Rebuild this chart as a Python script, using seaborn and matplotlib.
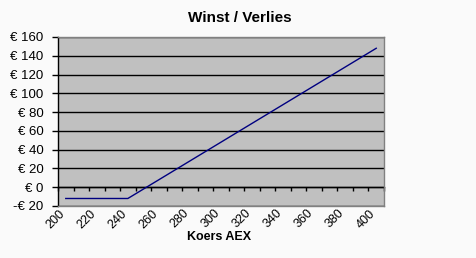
import matplotlib
matplotlib.use("Agg")
import matplotlib.pyplot as plt
import matplotlib.transforms as mtransforms
import seaborn as sns
import numpy as np
import pandas as pd
from matplotlib.ticker import FuncFormatter, FixedLocator

# Data
koers = [200, 210, 220, 230, 240, 250, 260, 270, 280, 290, 300,
         310, 320, 330, 340, 350, 360, 370, 380, 390, 400]
winst = [-12, -12, -12, -12, -12, -2, 8, 18, 28, 38, 48,
         58, 68, 78, 88, 98, 108, 118, 128, 138, 148]
y_ticks = [-20, 0, 20, 40, 60, 80, 100, 120, 140, 160]
x_labels = [str(v) for v in koers[::2]]

plt.rcParams['font.family'] = ['Liberation Sans', 'DejaVu Sans']

df = pd.DataFrame({"pos": np.arange(len(koers)), "winst": winst})

fig = plt.figure(figsize=(4.77, 2.58), dpi=100)
fig.patch.set_facecolor('#FAFAFA')
ax = fig.add_axes([58/477, 1-206/258, (384-58)/477, (206-37)/258])
ax.set_facecolor('#C0C0C0')

sns.lineplot(data=df, x="pos", y="winst", color='#000080', linewidth=1.0, ax=ax, zorder=3)

ax.set_xlim(-0.5, len(koers) - 0.5)
ax.set_ylim(-20, 160)
ax.set_yticks(y_ticks)
ax.yaxis.set_major_formatter(FuncFormatter(lambda v, p: ("-€ %d" % abs(v)) if v < 0 else "€ %d" % v))
ax.grid(axis='y', color='black', linewidth=1.0)
ax.set_axisbelow(True)

ax.set_xticks(np.arange(0, len(koers), 2))
ax.set_xticklabels(x_labels, rotation=45, ha='right', va='center', rotation_mode='anchor')
ax.tick_params(axis='x', length=0, pad=4, labelsize=9)
ax.tick_params(axis='y', length=4.3, width=1, direction='out', labelsize=9.5, pad=6, color='black')
offset = mtransforms.ScaledTranslation(-3/100, 0, fig.dpi_scale_trans)
for lbl in ax.get_xticklabels():
    lbl.set_transform(lbl.get_transform() + offset)

for s in ['top', 'right', 'bottom']:
    ax.spines[s].set_color('#808080')
    ax.spines[s].set_linewidth(1)
ax.spines['left'].set_color('black')
ax.spines['left'].set_linewidth(1)

# category-boundary tick marks on the zero line
sec = ax.secondary_xaxis(20/180)
sec.xaxis.set_major_locator(FixedLocator(np.arange(-0.5, len(koers), 1)))
sec.tick_params(axis='x', length=3, width=1, direction='out', labelbottom=False, color='black')
sec.spines['bottom'].set_color('black')
sec.spines['bottom'].set_linewidth(1)

ax.set_xlabel("Koers AEX", fontsize=9, fontweight='bold')
ax.xaxis.set_label_coords((219.5-58)/326, (206-237)/169)
ax.xaxis.label.set_va('center')
ax.set_ylabel("")
fig.text(239.5/477, 1-18/258, "Winst / Verlies", ha='center', va='center',
         fontsize=11, fontweight='bold')

fig.savefig("out.png", dpi=100, facecolor=fig.get_facecolor())
